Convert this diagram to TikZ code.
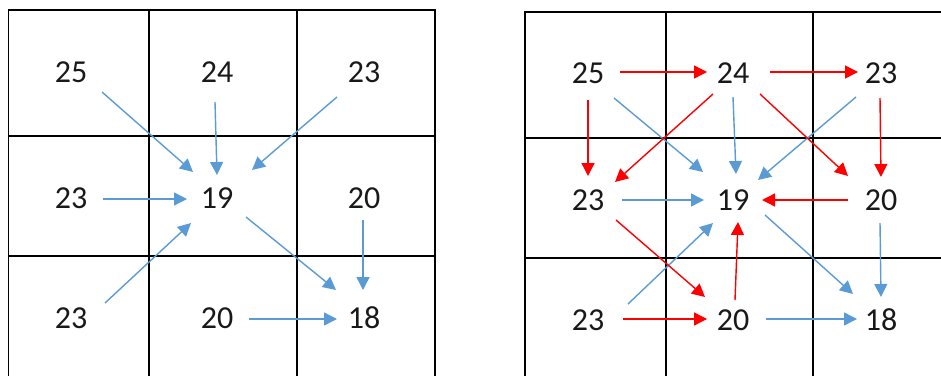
\documentclass[tikz,border=0pt]{standalone}
\usepackage{fontspec}
\setmainfont{Carlito}
\usetikzlibrary{arrows.meta}
\definecolor{ablue}{HTML}{5B9BD5}
\definecolor{ared}{HTML}{FF0000}
\tikzset{
  num/.style={inner sep=0pt, font=\fontsize{32}{32}\selectfont, text=black!90},
  gridline/.style={draw=black, line width=1.5pt},
  barr/.style={draw=ablue, line width=1.4pt, -{Triangle[length=13pt,width=13pt]}},
  rarr/.style={draw=ared, line width=1.4pt, -{Triangle[length=13pt,width=13pt]}}
}
\begin{document}
\begin{tikzpicture}[x=1pt,y=-1pt]
\useasboundingbox (0,0) rectangle (941,375);
\clip (0,0) rectangle (941,375);
% left grid
\draw[gridline] (8.7,10) rectangle (435,380);
\draw[gridline] (149,10) -- (149,380) (297,10) -- (297,380);
\draw[gridline] (8.7,136) -- (435,136) (8.7,256) -- (435,256);
% right grid
\draw[gridline] (525,12) rectangle (950,380);
\draw[gridline] (666,12) -- (666,380) (813,12) -- (813,380);
\draw[gridline] (525,138) -- (950,138) (525,258) -- (950,258);
% left numbers
\node[num] (a11) at (71,72) {25};
\node[num] (a12) at (217,72) {24};
\node[num] (a13) at (364,72) {23};
\node[num] (a21) at (71,198) {23};
\node[num] (a22) at (217,198) {19};
\node[num] (a23) at (364,198) {20};
\node[num] (a31) at (71,318) {23};
\node[num] (a32) at (217,318) {20};
\node[num] (a33) at (364,318) {18};
% right numbers
\node[num] (b11) at (588,73) {25};
\node[num] (b12) at (733,73) {24};
\node[num] (b13) at (881,73) {23};
\node[num] (b21) at (588,200) {23};
\node[num] (b22) at (733,200) {19};
\node[num] (b23) at (881,200) {20};
\node[num] (b31) at (588,320) {23};
\node[num] (b32) at (733,320) {20};
\node[num] (b33) at (881,320) {18};
% left arrows
\draw[barr] ([shift={(31,20)}]a11.center) -- ([shift={(-24,-26)}]a22.center);
\draw[barr] ([shift={(-2,30)}]a12.center) -- ([shift={(0,-23)}]a22.center);
\draw[barr] ([shift={(-27,25)}]a13.center) -- ([shift={(35,-28)}]a22.center);
\draw[barr] ([shift={(32,1)}]a21.center) -- ([shift={(-30,1)}]a22.center);
\draw[barr] ([shift={(34,-15)}]a31.center) -- ([shift={(-26,25)}]a22.center);
\draw[barr] ([shift={(29,19)}]a22.center) -- ([shift={(-28,-28)}]a33.center);
\draw[barr] ([shift={(-1,22)}]a23.center) -- ([shift={(-1,-28)}]a33.center);
\draw[barr] ([shift={(32,1)}]a32.center) -- ([shift={(-27,1)}]a33.center);
% right blue arrows
\draw[barr] ([shift={(26,25)}]b11.center) -- ([shift={(-30,-28)}]b22.center);
\draw[barr] ([shift={(0,24)}]b12.center) -- ([shift={(3,-26)}]b22.center);
\draw[barr] ([shift={(-25,24)}]b13.center) -- ([shift={(25,-20)}]b22.center);
\draw[barr] ([shift={(34,0)}]b21.center) -- ([shift={(-29,0)}]b22.center);
\draw[barr] ([shift={(40,-16)}]b31.center) -- ([shift={(-20,23)}]b22.center);
\draw[barr] ([shift={(32,15)}]b22.center) -- ([shift={(-28,-26)}]b33.center);
\draw[barr] ([shift={(-1,23)}]b23.center) -- ([shift={(0,-23)}]b33.center);
\draw[barr] ([shift={(33,-1)}]b32.center) -- ([shift={(-24,-1)}]b33.center);
% right red arrows
\draw[rarr] ([shift={(32,-1)}]b11.center) -- ([shift={(-26,-1)}]b12.center);
\draw[rarr] ([shift={(37,-1)}]b12.center) -- ([shift={(-23,-1)}]b13.center);
\draw[rarr] ([shift={(0,27)}]b11.center) -- ([shift={(0,-24)}]b21.center);
\draw[rarr] ([shift={(-20,21)}]b12.center) -- ([shift={(27,-18)}]b21.center);
\draw[rarr] ([shift={(27,21)}]b12.center) -- ([shift={(-33,-24)}]b23.center);
\draw[rarr] ([shift={(-1,25)}]b13.center) -- ([shift={(0,-23)}]b23.center);
\draw[rarr] ([shift={(-33,0)}]b23.center) -- ([shift={(29,0)}]b22.center);
\draw[rarr] ([shift={(28,20)}]b21.center) -- ([shift={(-28,-23)}]b32.center);
\draw[rarr] ([shift={(2,-20)}]b32.center) -- ([shift={(5,22)}]b22.center);
\draw[rarr] ([shift={(35,-1)}]b31.center) -- ([shift={(-26,-1)}]b32.center);
\end{tikzpicture}
\end{document}
